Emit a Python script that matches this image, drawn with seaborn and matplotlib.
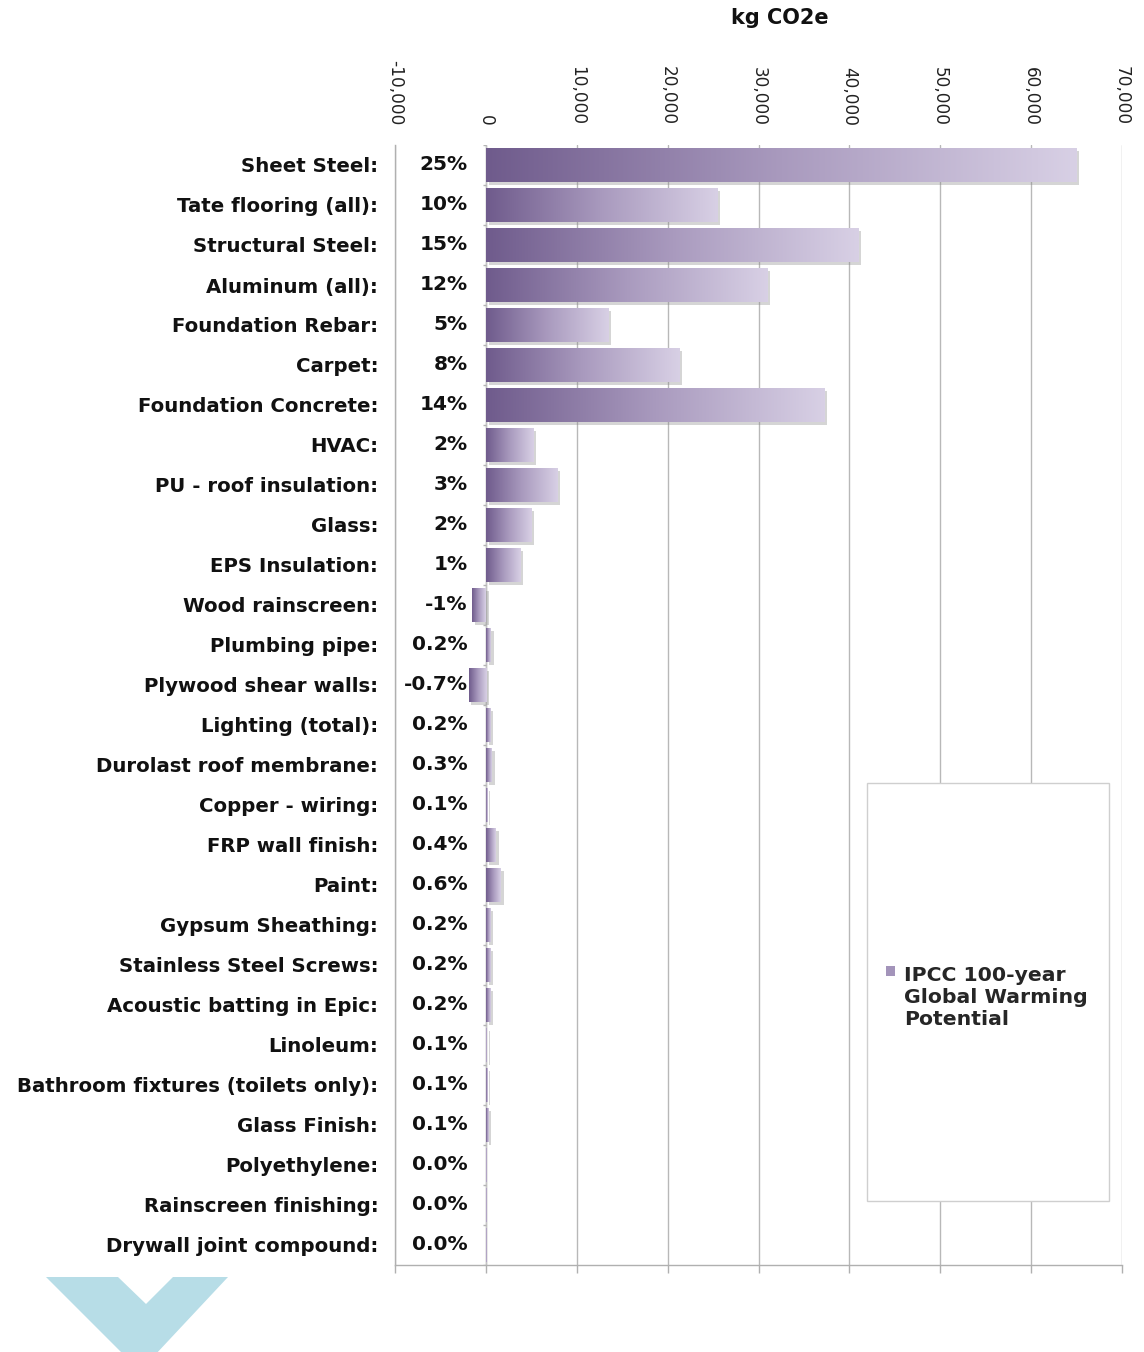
import numpy as np
import pandas as pd
import matplotlib
matplotlib.use("Agg")
import matplotlib.pyplot as plt
import seaborn as sns
from matplotlib.patches import Rectangle, Polygon, Patch
from matplotlib.colors import LinearSegmentedColormap
import matplotlib.patheffects as pe

# ---------------- data ----------------
materials = [
    "Sheet Steel", "Tate flooring (all)", "Structural Steel", "Aluminum (all)",
    "Foundation Rebar", "Carpet", "Foundation Concrete", "HVAC",
    "PU - roof insulation", "Glass", "EPS Insulation", "Wood rainscreen",
    "Plumbing pipe", "Plywood shear walls", "Lighting (total)",
    "Durolast roof membrane", "Copper - wiring", "FRP wall finish", "Paint",
    "Gypsum Sheathing", "Stainless Steel Screws", "Acoustic batting in Epic",
    "Linoleum", "Bathroom fixtures (toilets only)", "Glass Finish",
    "Polyethylene", "Rainscreen finishing", "Drywall joint compound",
]
co2e = [65000, 25500, 41000, 31000, 13500, 21300, 37200, 5200,
        7900, 5000, 3800, -1500, 550, -1900, 450,
        650, 200, 1100, 1650, 450, 450, 450,
        100, 200, 300, 40, 40, 40]
shares = ["25%", "10%", "15%", "12%", "5%", "8%", "14%", "2%",
          "3%", "2%", "1%", "-1%", "0.2%", "-0.7%", "0.2%",
          "0.3%", "0.1%", "0.4%", "0.6%", "0.2%", "0.2%", "0.2%",
          "0.1%", "0.1%", "0.1%", "0.0%", "0.0%", "0.0%"]
x_ticks = [-10000, 0, 10000, 20000, 30000, 40000, 50000, 60000, 70000]
x_ticklabels = ["-10,000", "0", "10,000", "20,000", "30,000", "40,000",
                "50,000", "60,000", "70,000"]
axis_title = "kg CO2e"
legend_label = "IPCC 100-year\nGlobal Warming\nPotential"

# ---------------- style ----------------
sns.set_theme(style="white")
plt.rcParams['font.family'] = ['DejaVu Sans']

W, H = 1144, 1352
fig = plt.figure(figsize=(W / 100, H / 100), dpi=100)
ax = fig.add_axes([395 / W, 1 - 1265 / H, 727 / W, 1120 / H])

df = pd.DataFrame({"material": materials, "co2e": co2e})
sns.barplot(data=df, x="co2e", y="material", orient="h", ax=ax,
            color="#b0a3c6", saturation=1, width=0.85, linewidth=0,
            zorder=3)

cmap = LinearSegmentedColormap.from_list("purp", ["#6f5b8c", "#a99abe", "#d8d0e5"])
grad = np.linspace(0, 1, 256).reshape(1, -1)
for p in list(ax.patches):
    bb = p.get_bbox()
    x0, x1 = min(bb.x0, bb.x1), max(bb.x0, bb.x1)
    y0, y1 = min(bb.y0, bb.y1), max(bb.y0, bb.y1)
    if x1 - x0 <= 0:
        continue
    p.set_path_effects([pe.SimplePatchShadow(offset=(2, -2), shadow_rgbFace="#888888", alpha=0.35),
                        pe.Normal()])
    im = ax.imshow(grad, extent=[x0, x1, y1, y0], aspect="auto", cmap=cmap,
                   zorder=3.5, interpolation="bilinear")
    im.set_clip_path(p)

# zero axis with category boundary ticks
ax.axvline(0, color="#c4c4c4", lw=1, zorder=2)
ax.hlines(np.arange(-0.5, len(materials) + 0.5, 1), -350, 0, color="#b4b4b4", lw=1, zorder=2)

# percentage data labels
for i, s in enumerate(shares):
    ax.text(-2000, i, s, ha="right", va="center", fontsize=14.5, fontweight="bold",
            color="#111111", zorder=6)

ax.set_xlim(-10000, 70000)
ax.set_ylim(len(materials) - 0.5, -0.5)

ax.set_axisbelow(True)
ax.grid(axis="x", color="#b8b8b8", lw=1)
ax.grid(axis="y", visible=False)

ax.xaxis.tick_top()
ax.set_xticks(x_ticks)
ax.set_xticklabels(x_ticklabels, rotation=-90, fontsize=12.2, color="#222222")
ax.tick_params(axis="x", which="major", top=False, bottom=True, labeltop=True,
               labelbottom=False, length=6, width=1, color="#b0b0b0", pad=8)
ax.set_yticks(range(len(materials)))
ax.set_yticklabels([m + ":" for m in materials], fontsize=14.2, fontweight="bold",
                   color="#111111")
ax.tick_params(axis="y", length=0, pad=12)
ax.set_xlabel("")
ax.set_ylabel("")

for side in ["top", "right"]:
    ax.spines[side].set_visible(False)
for side in ["left", "bottom"]:
    ax.spines[side].set_visible(True)
    ax.spines[side].set_color("#b0b0b0")
    ax.spines[side].set_linewidth(1)

# legend box
ax.add_patch(Rectangle((0.649, 0.057), 0.333, 0.373, transform=ax.transAxes,
                       facecolor="white", edgecolor="#cfcfcf", lw=1, zorder=5))
leg = ax.legend(handles=[Patch(facecolor="#a394ba", edgecolor="none")],
                labels=[legend_label], frameon=False, loc="upper left",
                bbox_to_anchor=(0.662, 0.276), borderpad=0, handlelength=0.4,
                handleheight=0.4, handletextpad=0.45,
                prop={"size": 14.7, "weight": "bold"})
leg.set_zorder(7)
for col in leg._legend_handle_box.get_children():
    for row in col.get_children():
        row.align = "top"

# title
fig.text(780 / W, 1 - 18 / H, axis_title, ha="center", va="center",
         fontsize=15, fontweight="bold", color="#111111")

# decorative chevron
pts = [(46, 1277), (118, 1277), (146, 1304), (173, 1277), (228, 1277), (140, 1371)]
fig.patches.append(Polygon([(x / W, 1 - y / H) for x, y in pts], closed=True,
                           transform=fig.transFigure, facecolor="#b7dde7",
                           edgecolor="none", zorder=0))

fig.savefig("out.png", dpi=100)
